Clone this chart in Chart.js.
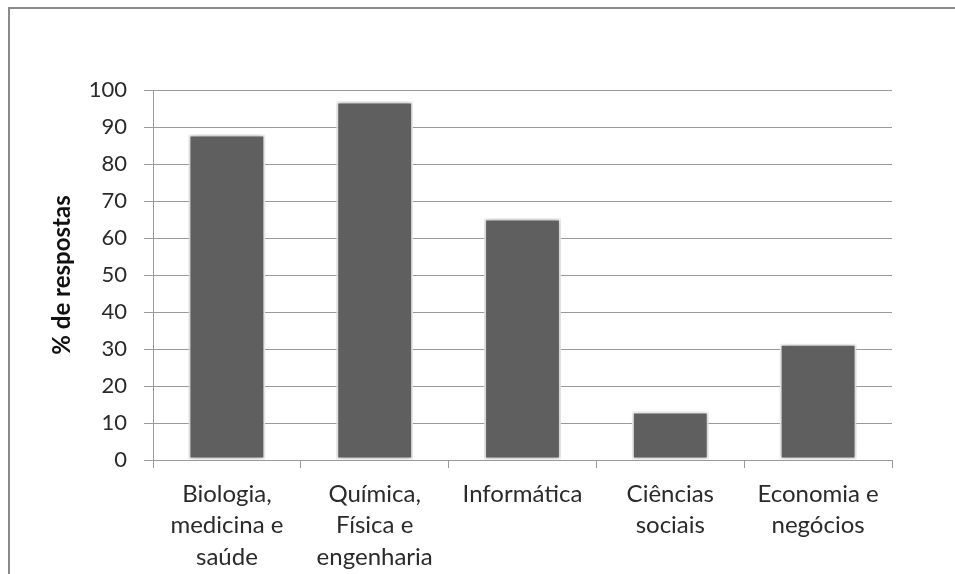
<!DOCTYPE html>
<html>
<head>
<meta charset="utf-8">
<script src="https://cdn.jsdelivr.net/npm/chart.js@4/dist/chart.umd.min.js"></script>
<style>
  html, body { margin: 0; padding: 0; background: #ffffff; }
  #wrap { position: relative; width: 955px; height: 574px; }
</style>
</head>
<body>
<div id="wrap"><canvas id="chart" width="955" height="574"></canvas></div>
<script>
// Áreas de formação e percentual de respostas
const categories = [
  ['Biologia,', 'medicina e', 'saúde'],
  ['Química,', 'Física e', 'engenharia'],
  ['Informática'],
  ['Ciências', 'sociais'],
  ['Economia e', 'negócios']
];
const percentages = [88.0, 96.9, 65.3, 13.1, 31.4];
const yTicks = [0, 10, 20, 30, 40, 50, 60, 70, 80, 90, 100];
const yTitle = '% de respostas';

// Outer frame of the chart object
const framePlugin = {
  id: 'frame',
  beforeDraw(chart) {
    const ctx = chart.ctx;
    ctx.save();
    ctx.strokeStyle = '#8a8a8a';
    ctx.lineWidth = 2;
    ctx.strokeRect(9, 8, chart.width + 20, chart.height + 20);
    ctx.restore();
  }
};

// Soft glow around the bars
const glowPlugin = {
  id: 'glow',
  beforeDatasetDraw(chart) {
    const ctx = chart.ctx;
    ctx.save();
    ctx.shadowColor = 'rgba(0,0,0,0.28)';
    ctx.shadowBlur = 5;
    ctx.shadowOffsetX = 0;
    ctx.shadowOffsetY = 0;
  },
  afterDatasetDraw(chart) {
    chart.ctx.restore();
  }
};

new Chart(document.getElementById('chart'), {
  type: 'bar',
  data: {
    labels: categories,
    datasets: [{
      data: percentages,
      backgroundColor: '#5f5f5f',
      borderColor: '#f4f4f4',
      borderWidth: 2,
      borderSkipped: false,
      barPercentage: 0.52,
      categoryPercentage: 1.0
    }]
  },
  options: {
    responsive: false,
    animation: false,
    devicePixelRatio: 1,
    layout: { padding: { left: 0, top: 90, right: 63, bottom: 0 } },
    plugins: {
      legend: { display: false },
      tooltip: { enabled: false }
    },
    scales: {
      x: {
        offset: true,
        grid: {
          offset: true,
          drawOnChartArea: false,
          drawTicks: true,
          tickLength: 8,
          color: '#9a9a9a',
          lineWidth: 1
        },
        border: { display: true, color: '#9a9a9a', width: 1 },
        ticks: {
          color: '#2a2a2a',
          font: { family: 'Lato', size: 24, lineHeight: 1.32 },
          padding: 10,
          maxRotation: 0,
          autoSkip: false
        },
        afterFit(scale) { scale.height = 114; }
      },
      y: {
        min: 0,
        max: 100,
        afterBuildTicks(scale) { scale.ticks = yTicks.map(v => ({ value: v })); },
        grid: {
          color: '#9a9a9a',
          lineWidth: 1,
          drawTicks: true,
          tickLength: 9
        },
        border: { display: true, color: '#9a9a9a', width: 1 },
        ticks: {
          color: '#2a2a2a',
          font: { family: 'Lato', size: 22 },
          padding: 17
        },
        title: {
          display: true,
          text: yTitle,
          color: '#111111',
          font: { family: 'Lato', size: 24, weight: 'bold' },
          padding: { top: 48, bottom: 0 }
        },
        afterFit(scale) { scale.width = 153; }
      }
    }
  },
  plugins: [framePlugin, glowPlugin]
});
</script>
</body>
</html>
